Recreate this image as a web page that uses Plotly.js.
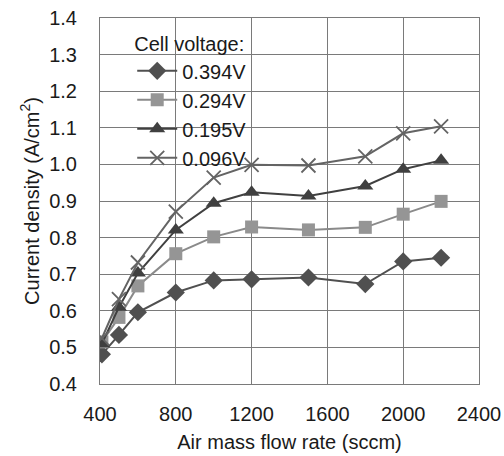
<!DOCTYPE html>
<html><head><meta charset="utf-8">
<script src="https://cdn.plot.ly/plotly-3.0.1.min.js"></script>
<style>body{margin:0;background:#fff}#chart{width:504px;height:456px}</style>
</head><body><div id="chart"></div>
<script>
const flowRate = [410, 500, 600, 800, 1000, 1200, 1500, 1800, 2000, 2200];
const seriesNames = ["0.394V", "0.294V", "0.195V", "0.096V"];
const v0394 = [0.481, 0.534, 0.596, 0.650, 0.683, 0.686, 0.691, 0.673, 0.735, 0.745];
const v0294 = [0.515, 0.582, 0.668, 0.756, 0.802, 0.829, 0.821, 0.828, 0.864, 0.899];
const v0195 = [0.510, 0.610, 0.703, 0.821, 0.894, 0.924, 0.914, 0.941, 0.987, 1.011];
const v0096 = [0.525, 0.632, 0.732, 0.871, 0.964, 0.999, 0.997, 1.022, 1.085, 1.104];
const xTicks = [400, 800, 1200, 1600, 2000, 2400];
const yTicks = [0.4, 0.5, 0.6, 0.7, 0.8, 0.9, 1.0, 1.1, 1.2, 1.3, 1.4];

const styles = [
  {line: '#505050', marker: {symbol: 'diamond', size: 14, color: '#505050'}},
  {line: '#8a8a8a', marker: {symbol: 'square', size: 13, color: '#959595'}},
  {line: '#404040', marker: {symbol: 'triangle-up', size: 14, color: '#404040'}},
  {line: '#646464', marker: {symbol: 'x-thin', size: 14, color: '#646464', line: {width: 1.8, color: '#646464'}}}
];
const values = [v0394, v0294, v0195, v0096];
const traces = values.map((v, i) => ({
  x: flowRate, y: v, name: seriesNames[i], type: 'scatter', mode: 'lines+markers',
  line: {color: styles[i].line, width: 2},
  marker: styles[i].marker
}));

const font = {family: 'Liberation Sans, Arial, sans-serif', size: 20, color: '#1a1a1a'};
const layout = {
  width: 504, height: 456,
  margin: {l: 100, r: 25, t: 18, b: 72},
  paper_bgcolor: '#fff', plot_bgcolor: '#fff',
  font: font,
  showlegend: true,
  legend: {
    x: 0.085, y: 0.98, xanchor: 'left', yanchor: 'top',
    bgcolor: 'rgba(0,0,0,0)', borderwidth: 0,
    title: {text: 'Cell voltage:', font: font},
    font: font, itemwidth: 40, tracegroupgap: 0
  },
  shapes: [{
    type: 'rect', xref: 'paper', yref: 'paper', layer: 'between',
    x0: 0.079, x1: 0.41, y0: 0.615, y1: 0.972,
    fillcolor: '#ffffff', line: {width: 0}
  }],
  xaxis: {
    range: [400, 2400], tickvals: xTicks, ticktext: xTicks.map(String),
    showgrid: true, gridcolor: '#7a7a7a', gridwidth: 1,
    showline: true, linecolor: '#7a7a7a', linewidth: 1, mirror: true,
    zeroline: false, ticks: '', tickfont: font, ticklabelstandoff: 12,
    title: {text: 'Air mass flow rate (sccm)', font: font, standoff: 10}
  },
  yaxis: {
    range: [0.4, 1.4], tickvals: yTicks, ticktext: yTicks.map(v => v.toFixed(1)),
    showgrid: true, gridcolor: '#7a7a7a', gridwidth: 1,
    showline: true, linecolor: '#7a7a7a', linewidth: 1, mirror: true,
    zeroline: false, ticks: '', tickfont: font, ticklabelstandoff: 18,
    title: {text: 'Current density (A/cm<sup>2</sup>)', font: font, standoff: 4}
  }
};
Plotly.newPlot('chart', traces, layout, {staticPlot: true});
</script></body></html>
